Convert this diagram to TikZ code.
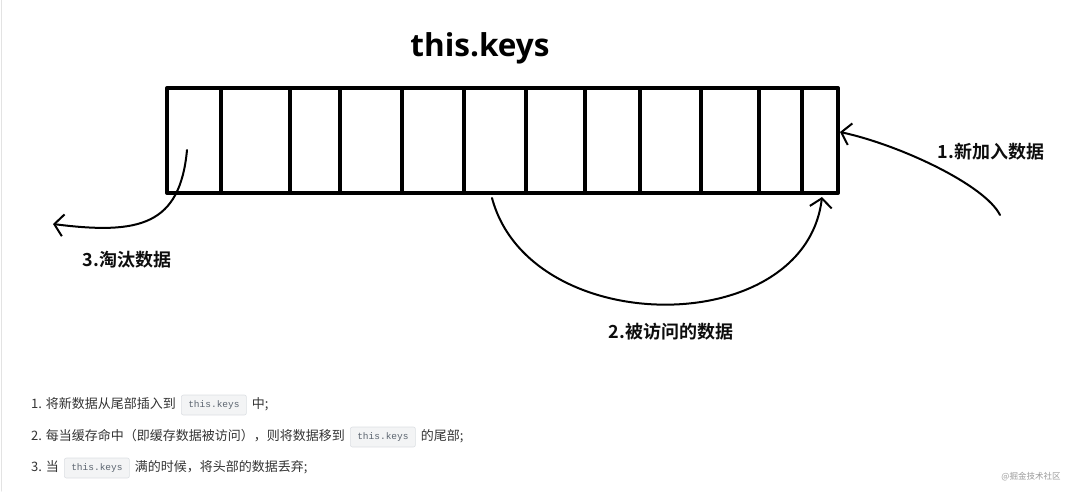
\documentclass[tikz,border=0pt]{standalone}
\usepackage{fontspec}
\setmainfont{Noto Sans CJK SC}[BoldFont={Noto Sans CJK SC Bold}]
\newfontfamily\titlefont{Open Sans}
\setmonofont{Liberation Mono}
\usepackage{tikz}
\usetikzlibrary{arrows.meta,positioning}
\definecolor{inkblack}{HTML}{000000}
\definecolor{notegrey}{HTML}{333333}
\definecolor{codefill}{HTML}{F3F4F5}
\definecolor{coderule}{HTML}{DCDFE3}
\definecolor{codetext}{HTML}{5C6570}
\definecolor{markgrey}{HTML}{9A9A9A}
\definecolor{edgegrey}{HTML}{E3E3E3}

\begin{document}
\begin{tikzpicture}[x=1pt, y=-1pt, line cap=round, line join=round,
  cell/.style={draw=inkblack, line width=4},
  hand/.style={draw=inkblack, line width=2, -{Straight Barb[length=9pt,width=22pt]}},
  tag/.style={font=\bfseries\fontsize{18}{21}\selectfont, text=black!95, inner sep=0},
  note/.style={font=\fontsize{13}{15}\selectfont, text=notegrey, inner sep=0,
    text height=10, text depth=3},
  code/.style={draw=coderule, fill=codefill, rounded corners=2, line width=0.6,
    font=\ttfamily\fontsize{9.5}{11}\selectfont, text=codetext,
    minimum width=65, minimum height=20, inner sep=0}]
  \useasboundingbox (0,0) rectangle (1080,491);
  % page edge
  \draw[edgegrey, line width=1] (1.5,0) -- (1.5,491);
  % title
  \node[font=\titlefont\bfseries\fontsize{31.5}{36}\selectfont] (title) at (480,48) {this.keys};
  % key array
  \draw[cell] (167,88) rectangle (838,193);
  \foreach \xx in {221,290,340,402,464,526,585,640,701,759,802}
    \draw[cell, line width=3.6] (\xx,88) -- (\xx,193);
  % arrow ends
  \coordinate (newin) at (1000,215);
  \coordinate (tailin) at (840,132);
  \coordinate (hitout) at (492,198);
  \coordinate (tailup) at (822,197);
  \coordinate (headcell) at (187,150);
  \coordinate (dropout) at (53,224);
  % arrows
  \draw[hand] (newin) .. controls (985,185) and (900,145) .. (tailin);
  \draw[hand] (hitout) .. controls (530,340) and (805,340) .. (tailup);
  \draw[hand] (headcell) .. controls (180,225) and (140,235) .. (dropout);
  % labels
  \node[tag] (newlab) at (991,152) {1.新加入数据};
  \node[tag] (hitlab) at (671,332) {2.被访问的数据};
  \node[tag] (droplab) at (127,260) {3.淘汰数据};
  % notes
  \node[note, anchor=west] (n1a) at (31,405) {1. 将新数据从尾部插入到};
  \node[code, right=5pt of n1a] (c1) {this.keys};
  \node[note, right=5pt of c1] (n1b) {中;};
  \node[note, anchor=west] (n2a) at (31,437) {2. 每当缓存命中（即缓存数据被访问），则将数据移到};
  \node[code, right=5pt of n2a] (c2) {this.keys};
  \node[note, right=5pt of c2] (n2b) {的尾部;};
  \node[note, anchor=west] (n3a) at (31,468) {3. 当};
  \node[code, right=5pt of n3a] (c3) {this.keys};
  \node[note, right=5pt of c3] (n3b) {满的时候，将头部的数据丢弃;};
  % watermark
  \node[font=\fontsize{8.5}{10}\selectfont, text=markgrey] (mark) at (1031,477) {@掘金技术社区};
\end{tikzpicture}
\end{document}
